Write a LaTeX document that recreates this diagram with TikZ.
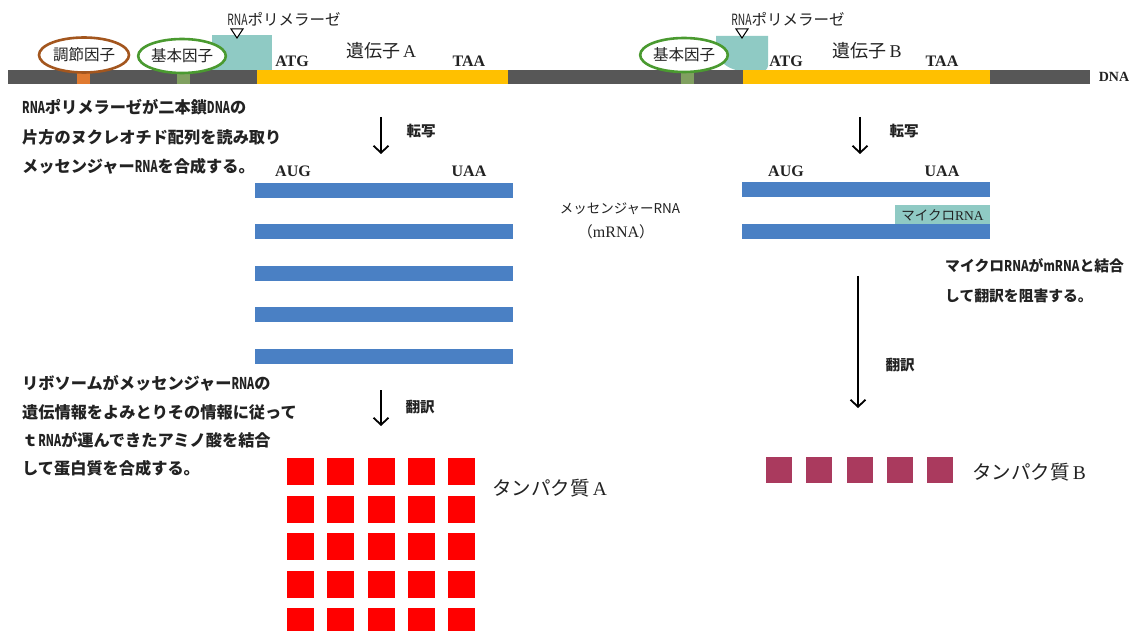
\documentclass[tikz,border=0pt]{standalone}
\usepackage{fontspec}
\usepackage{graphicx}
\setmainfont{Liberation Serif}
\newfontfamily\jp{Noto Sans CJK JP}
\usetikzlibrary{arrows.meta,shapes.geometric}
\definecolor{dnagray}{HTML}{575757}
\definecolor{geneyellow}{HTML}{FFC000}
\definecolor{mrnablue}{HTML}{4A80C4}
\definecolor{polteal}{HTML}{8FCAC4}
\definecolor{regbrown}{HTML}{A3561E}
\definecolor{basegreen}{HTML}{4A9A30}
\definecolor{regorange}{HTML}{E07A30}
\definecolor{basegreenrect}{HTML}{80A060}
\definecolor{protred}{HTML}{FF0000}
\definecolor{protmag}{HTML}{AA3A5E}
\definecolor{inkgray}{HTML}{222222}
\newcommand\cnd[1]{\scalebox{0.66}[1]{#1}}
\newcommand\cnr[1]{\scalebox{0.78}[1]{#1}}
\tikzset{
  box/.style={rectangle, inner sep=0pt, outer sep=0pt, draw=none},
  dnabar/.style={box, fill=dnagray, minimum height=14pt},
  genebar/.style={box, fill=geneyellow, minimum height=14pt},
  sitebar/.style={box, minimum width=13pt, minimum height=14pt},
  mrnabar/.style={box, fill=mrnablue, minimum height=15pt},
  factor/.style={ellipse, draw, line width=2.6pt, fill=white, minimum width=82pt, minimum height=34pt, inner sep=0pt, font=\jp\fontsize{15.5}{16}\selectfont, text=inkgray},
  codon/.style={font=\bfseries\fontsize{16}{16}\selectfont, inner sep=0pt, text=inkgray},
  expl/.style={font=\jp\bfseries\fontsize{16.2}{17}\selectfont, anchor=west, inner sep=0pt, text=inkgray},
  explr/.style={font=\jp\bfseries\fontsize{14.8}{15}\selectfont, anchor=west, inner sep=0pt, text=inkgray},
  flow/.style={-{Straight Barb[length=7pt,width=15pt,line width=1.8pt]}, line width=1.8pt},
  steplbl/.style={font=\jp\bfseries\fontsize{14.5}{15}\selectfont, inner sep=0pt, text=inkgray},
  genelbl/.style={font=\fontsize{18}{18}\selectfont, inner sep=0pt, text=inkgray},
  pollbl/.style={font=\jp\fontsize{15.5}{16}\selectfont, inner sep=0pt, text=inkgray},
  protlbl/.style={font=\fontsize{19.5}{20}\selectfont, anchor=west, inner sep=0pt, text=inkgray},
  protA/.style={box, fill=protred, minimum width=27pt, minimum height=27pt, anchor=north west},
  protB/.style={box, fill=protmag, minimum width=26pt, minimum height=26pt, anchor=north west},
}
\begin{document}
\begin{tikzpicture}[x=1pt,y=-1pt]
\fill[white] (0,0) rectangle (1136,631);
\useasboundingbox (0,0) rectangle (1136,631);

% RNA polymerase blocks
\fill[polteal] (212,35) rectangle (272,70);
\fill[polteal] (716,36) -- (768,36) -- (768,66) to[out=-100,in=0] (745,71) to[out=180,in=-70] (716,52) -- cycle;

% DNA strand
\node[dnabar, minimum width=1082pt] (dna) at (549,77) {};
\node[genebar, minimum width=251pt] (geneA) at (382.5,77) {};
\node[genebar, minimum width=247pt] (geneB) at (866.5,77) {};
\node[sitebar, fill=regorange] (regsite) at (83.5,77) {};
\node[sitebar, fill=basegreenrect] (basesiteA) at (183.5,77) {};
\node[sitebar, fill=basegreenrect] (basesiteB) at (687,77) {};
\node[font=\bfseries\fontsize{14}{14}\selectfont, inner sep=0pt, text=inkgray] (dnalbl) at (1114,77) {DNA};

% factors
\node[factor, draw=regbrown, minimum width=90pt, minimum height=35pt] (reg) at (84,55) {調節因子};
\node[factor, draw=basegreen] (baseA) at (182,56) {基本因子};
\node[factor, draw=basegreen] (baseB) at (684,55) {基本因子};

% polymerase markers and labels
\draw[line width=1pt, fill=white] (231,29) -- (243,29) -- (237,38) -- cycle;
\draw[line width=1pt, fill=white] (736,29) -- (748,29) -- (742,38) -- cycle;
\node[pollbl] (polAlbl) at (284,19) {\cnd{RNA}ポリメラーゼ};
\node[pollbl] (polBlbl) at (788,19) {\cnd{RNA}ポリメラーゼ};

% gene labels
\node[codon] (atgA) at (292,61) {ATG};
\node[codon] (taaA) at (469,61) {TAA};
\node[genelbl] (geneAlbl) at (381,51) {{\jp 遺伝子}\,A};
\node[codon] (atgB) at (786,61) {ATG};
\node[codon] (taaB) at (942,61) {TAA};
\node[genelbl] (geneBlbl) at (867,51) {{\jp 遺伝子}\,B};

% explanation left top
\node[expl] (e1) at (22,107) {\cnd{RNA}ポリメラーゼが二本鎖\cnd{DNA}の};
\node[expl] (e2) at (22,137) {片方のヌクレオチド配列を読み取り};
\node[expl] (e3) at (22,166) {メッセンジャー\cnd{RNA}を合成する。};

% transcription arrows
\coordinate (tA1) at (381,117); \coordinate (tA2) at (381,154);
\draw[flow] (tA1) -- (tA2);
\node[steplbl] (tAl) at (421,131) {転写};
\coordinate (tB1) at (860,117); \coordinate (tB2) at (860,154);
\draw[flow] (tB1) -- (tB2);
\node[steplbl] (tBl) at (904,131) {転写};

% mRNA left
\node[codon] (augA) at (293,171) {AUG};
\node[codon] (uaaA) at (469,171) {UAA};
\foreach \i/\yy in {1/190.5,2/232,3/273.5,4/315,5/356.5}{
  \node[mrnabar, minimum width=258pt] (mA\i) at (384,\yy) {};
}
% mRNA right
\node[codon] (augB) at (786,171) {AUG};
\node[codon] (uaaB) at (942,171) {UAA};
\node[mrnabar, minimum width=248pt] (mB1) at (866,189.5) {};
\node[mrnabar, minimum width=248pt] (mB2) at (866,232) {};
\node[box, fill=polteal, minimum width=95pt, minimum height=19pt, font=\fontsize{13.5}{14}\selectfont, text=inkgray] (mirna) at (942.5,215) {{\jp マイクロ}RNA};

% middle label
\node[font=\jp\fontsize{13.5}{14}\selectfont, inner sep=0pt, text=inkgray] (mlbl1) at (620,209) {メッセンジャーRNA};
\node[font=\jp\fontsize{15}{15}\selectfont, inner sep=0pt, text=inkgray] (mlbl2) at (616,232) {（\textrm{\fontsize{16}{16}\selectfont mRNA}）};

% right explanation
\node[explr] (r1) at (945,266) {マイクロ\cnr{RNA}が\cnr{mRNA}と結合};
\node[explr] (r2) at (945,296) {して翻訳を阻害する。};

% translation arrows
\coordinate (lA1) at (381,390); \coordinate (lA2) at (381,426);
\draw[flow] (lA1) -- (lA2);
\node[steplbl] (lAl) at (420,407) {翻訳};
\coordinate (lB1) at (858,276); \coordinate (lB2) at (858,408);
\draw[flow] (lB1) -- (lB2);
\node[steplbl] (lBl) at (900,365) {翻訳};

% explanation left bottom
\node[expl] (b1) at (22,383) {リボソームがメッセンジャー\cnd{RNA}の};
\node[expl] (b2) at (22,412) {遺伝情報をよみとりその情報に従って};
\node[expl] (b3) at (22,440) {ｔ\cnd{RNA}が運んできたアミノ酸を結合};
\node[expl] (b4) at (22,468) {して蛋白質を合成する。};

% protein A
\foreach \r in {0,...,4}{
  \foreach \c in {0,...,4}{
    \node[protA] (pA\r\c) at ({287+40.25*\c},{458+37.5*\r}) {};
  }
}
\node[protlbl] (pAl) at (492,488) {{\jp タンパク質}\,A};
% protein B
\foreach \c in {0,...,4}{
  \node[protB] (pB\c) at ({766+40.3*\c},457) {};
}
\node[protlbl] (pBl) at (972,472) {{\jp タンパク質}\,B};
\end{tikzpicture}
\end{document}
